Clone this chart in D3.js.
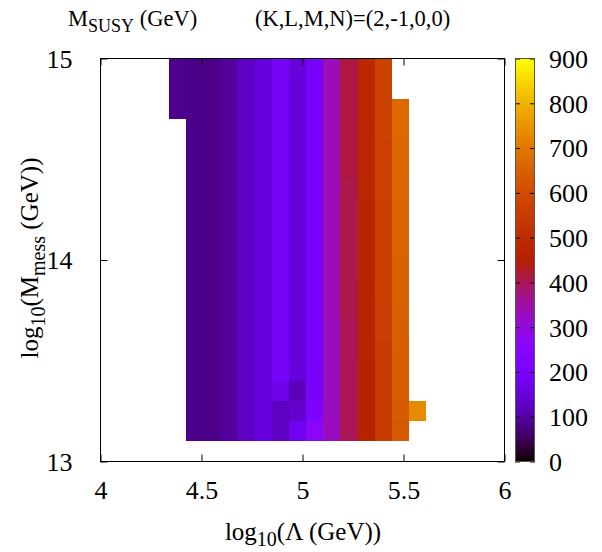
<!DOCTYPE html>
<html><head><meta charset="utf-8">
<script src="https://cdn.jsdelivr.net/npm/d3@7"></script>
<style>
body{margin:0;background:#fff}
svg{display:block}
text{font-family:"Liberation Serif","Times New Roman",serif;fill:#000}
</style>
</head><body>
<svg id="c" width="602" height="552"></svg>
<script>
// ---- data ----
// x: log10(Lambda / GeV) cell centres
const lambdaLog = [4.38, 4.465, 4.55, 4.635, 4.72, 4.805, 4.89, 4.975, 5.06, 5.145, 5.23, 5.315, 5.40, 5.485, 5.57];
// y: log10(M_mess / GeV) cell centres
const messLog = [13.15, 13.25, 13.35, 13.45, 13.55, 13.65, 13.75, 13.85, 13.95, 14.05, 14.15, 14.25, 14.35, 14.45, 14.55, 14.65, 14.75, 14.85, 14.95];
// M_SUSY (GeV) per Lambda column, listed from lowest M_mess to highest (null = no point)
const msusyCol0  = [null,null,null,null,null,null,null,null,null,null,null,null,null,null,null,null,85,85,85];
const msusyCol1  = [82,82,82,82,82,82,82,82,82,82,82,82,82,82,82,82,82,82,82];
const msusyCol2  = [80,80,80,80,80,80,80,80,80,80,80,80,80,80,80,80,80,80,80];
const msusyCol3  = [95,95,95,95,95,95,95,95,95,95,95,95,95,95,95,95,95,95,95];
const msusyCol4  = [125,125,125,125,125,125,125,125,125,125,125,125,125,125,125,125,125,125,125];
const msusyCol5  = [150,150,150,150,150,150,150,150,150,150,150,150,150,150,150,150,150,150,150];
const msusyCol6  = [125,125,165,195,195,195,195,195,195,195,195,195,195,195,195,195,195,195,195];
const msusyCol7  = [175,135,115,148,148,148,148,148,148,148,148,148,148,148,148,148,148,148,148];
const msusyCol8  = [262,215,198,198,198,198,198,198,198,198,198,198,198,198,198,198,198,198,198];
const msusyCol9  = [330,330,330,330,330,330,335,335,335,335,335,335,335,335,335,335,335,335,335];
const msusyCol10 = [402,402,402,402,402,402,408,408,408,408,408,408,408,412,412,412,412,412,412];
const msusyCol11 = [462,462,465,465,468,468,470,470,472,472,474,474,476,476,478,478,480,480,482];
const msusyCol12 = [548,550,552,554,556,558,560,562,563,564,565,566,567,568,569,570,571,572,573];
const msusyCol13 = [632,636,640,644,646,648,650,652,654,656,658,660,662,664,666,668,670,null,null];
const msusyCol14 = [null,735,null,null,null,null,null,null,null,null,null,null,null,null,null,null,null,null,null];
const msusyColumns = [msusyCol0,msusyCol1,msusyCol2,msusyCol3,msusyCol4,msusyCol5,msusyCol6,msusyCol7,
                      msusyCol8,msusyCol9,msusyCol10,msusyCol11,msusyCol12,msusyCol13,msusyCol14];
const xTicks = [4, 4.5, 5, 5.5, 6];
const yTicks = [13, 14, 15];
const cbTicks = [0, 100, 200, 300, 400, 500, 600, 700, 800, 900];
const cbRange = [0, 900];

// ---- layout ----
const FONT = '"Liberation Serif","Times New Roman",serif';
const svg = d3.select("#c");
const L = 100.5, R = 504.5, T = 58.5, B = 461.5;
const x = d3.scaleLinear().domain([4, 6]).range([L, R]);
const y = d3.scaleLinear().domain([13, 15]).range([B, T]);

// gnuplot rgbformulae 7,5,15
function pal(t){
  t = Math.max(0, Math.min(1, t));
  const c = v => Math.round(255*Math.max(0, Math.min(1, v)));
  return `rgb(${c(Math.sqrt(t))},${c(t*t*t)},${c(Math.sin(2*Math.PI*t))})`;
}
const color = d3.scaleSequential(pal).domain(cbRange);

// ---- heat map cells ----
const hx = (lambdaLog[1]-lambdaLog[0])/2;
const hy = (messLog[1]-messLog[0])/2;
const cells = [];
msusyColumns.forEach((col, i) => col.forEach((v, j) => {
  if (v != null) cells.push({cx: lambdaLog[i], cy: messLog[j], v});
}));
svg.append("g").attr("shape-rendering","crispEdges")
  .selectAll("rect").data(cells).join("rect")
  .attr("x", d => x(d.cx - hx))
  .attr("width", d => x(d.cx + hx) - x(d.cx - hx))
  .attr("y", d => y(d.cy + hy))
  .attr("height", d => y(d.cy - hy) - y(d.cy + hy))
  .attr("fill", d => color(d.v));

// ---- axes ----
const tickLen = 7;
const gB = svg.append("g").attr("transform",`translate(0,${B})`)
  .call(d3.axisBottom(x).tickValues(xTicks).tickSize(-tickLen).tickFormat(d => String(d)));
const gT = svg.append("g").attr("transform",`translate(0,${T})`)
  .call(d3.axisTop(x).tickValues(xTicks).tickSize(-tickLen).tickFormat(""));
const gL = svg.append("g").attr("transform",`translate(${L},0)`)
  .call(d3.axisLeft(y).tickValues(yTicks).tickSize(-tickLen).tickFormat(d => String(d)));
const gR = svg.append("g").attr("transform",`translate(${R},0)`)
  .call(d3.axisRight(y).tickValues(yTicks).tickSize(-tickLen).tickFormat(""));
[gB,gT,gL,gR].forEach(g => {
  g.attr("font-family", FONT).attr("font-size", 26);
  g.select(".domain").remove();
  g.selectAll("line").attr("stroke","#000").attr("stroke-width",1);
});
gB.selectAll("text").attr("y", 37).attr("dy", 0).attr("fill","#000");
gL.selectAll("text").attr("x", -28).attr("dy", "0.34em").attr("fill","#000");

// frame
svg.append("rect").attr("x",L).attr("y",T).attr("width",R-L).attr("height",B-T)
  .attr("fill","none").attr("stroke","#000").attr("stroke-width",1);

// ---- colour box ----
const cbL = 515, cbR = 535;
const cbY = d3.scaleLinear().domain(cbRange).range([B, T]);
const grad = svg.append("defs").append("linearGradient").attr("id","cbg")
  .attr("x1",0).attr("y1",1).attr("x2",0).attr("y2",0);
d3.range(0, 1.0001, 0.01).forEach(t => {
  grad.append("stop").attr("offset", t).attr("stop-color", color(cbRange[0] + t*(cbRange[1]-cbRange[0])));
});
svg.append("rect").attr("x",cbL).attr("y",T).attr("width",cbR-cbL).attr("height",B-T)
  .attr("fill","url(#cbg)");
const cbTickLen = 5;
const gcR = svg.append("g").attr("transform",`translate(${cbR},0)`)
  .call(d3.axisRight(cbY).tickValues(cbTicks).tickSize(-cbTickLen).tickFormat(d => String(d)));
const gcL = svg.append("g").attr("transform",`translate(${cbL},0)`)
  .call(d3.axisLeft(cbY).tickValues(cbTicks).tickSize(-cbTickLen).tickFormat(""));
[gcR,gcL].forEach(g => {
  g.attr("font-family", FONT).attr("font-size", 26);
  g.select(".domain").remove();
  g.selectAll("line").attr("stroke","#000").attr("stroke-width",1);
});
gcR.selectAll("text").attr("x", 14).attr("dy","0.34em").attr("fill","#000");
svg.append("rect").attr("x",cbL+0.5).attr("y",T).attr("width",cbR-cbL-1).attr("height",B-T)
  .attr("fill","none").attr("stroke","#555").attr("stroke-width",1);

// ---- labels ----
const t1 = svg.append("text").attr("x",68).attr("y",26).style("font-size","22.5px");
t1.append("tspan").text("M");
t1.append("tspan").attr("dy",6).style("font-size","18px").text("SUSY");
t1.append("tspan").attr("dy",-6).text(" (GeV)");
svg.append("text").attr("x",255).attr("y",26).style("font-size","22.5px").text("(K,L,M,N)=(2,-1,0,0)");

const xl = svg.append("text").attr("x",303).attr("y",540).attr("text-anchor","middle").style("font-size","25px");
xl.append("tspan").text("log");
xl.append("tspan").attr("dy",6).style("font-size","20px").text("10");
xl.append("tspan").attr("dy",-6).text("(Λ (GeV))");

const yl = svg.append("text").attr("transform","translate(38,258) rotate(-90)")
  .attr("text-anchor","middle").style("font-size","25px");
yl.append("tspan").text("log");
yl.append("tspan").attr("dy",7).style("font-size","20px").text("10");
yl.append("tspan").attr("dy",-7).text("(M");
yl.append("tspan").attr("dy",7).style("font-size","20px").text("mess");
yl.append("tspan").attr("dy",-7).text(" (GeV))");
</script>
</body></html>
